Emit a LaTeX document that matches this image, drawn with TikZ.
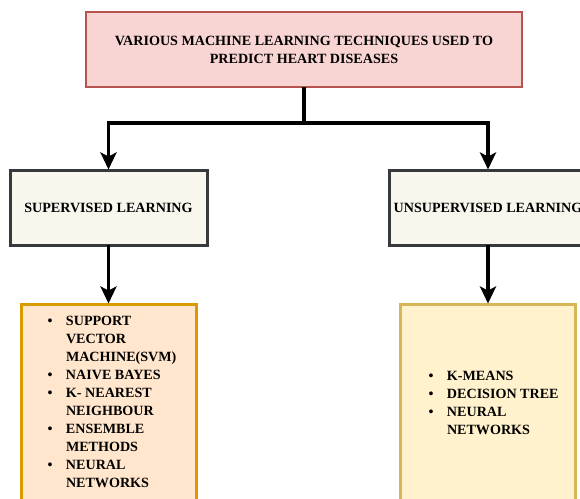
\documentclass[tikz,border=0pt]{standalone}
\usepackage{fontspec}
\setmainfont{Liberation Serif}
\usetikzlibrary{arrows.meta}
\definecolor{topfill}{HTML}{F8D5D2}
\definecolor{topdraw}{HTML}{B85450}
\definecolor{midfill}{HTML}{F9F7ED}
\definecolor{middraw}{HTML}{36393D}
\definecolor{lfill}{HTML}{FFE6CC}
\definecolor{ldraw}{HTML}{D79B00}
\definecolor{rfill}{HTML}{FFF2CC}
\definecolor{rdraw}{HTML}{D6B656}
\tikzset{
  boxbase/.style={rectangle, inner sep=0pt, outer sep=0pt, align=center},
  topbox/.style={boxbase, fill=topfill, draw=topdraw, line width=2.6pt, minimum width=436pt, minimum height=75pt},
  midbox/.style={boxbase, fill=midfill, draw=middraw, line width=3pt, minimum width=197pt, minimum height=75pt},
  lbox/.style={boxbase, fill=lfill, draw=ldraw, line width=3pt, minimum width=175pt, minimum height=210pt},
  rbox/.style={boxbase, fill=rfill, draw=rdraw, line width=3pt, minimum width=175pt, minimum height=210pt},
  listtext/.style={anchor=base west, inner sep=0pt, outer sep=0pt},
  conn/.style={line width=3.2pt, black, -{Stealth[length=17pt, width=16pt, inset=4pt]}, shorten >=0.5pt},
  conn2/.style={line width=3.2pt, black}
}
\newcommand{\bul}{\makebox[18.5pt][l]{\textbullet}}
\newcommand{\ind}{\hspace*{18.5pt}}
\begin{document}
\begin{tikzpicture}[x=1pt, y=-1pt, font=\fontsize{14.1}{18}\selectfont\bfseries]
\useasboundingbox (0,0) rectangle (580,498);
\clip (0,0) rectangle (580,498);
\fill[white] (0,0) rectangle (580,498);

\node[topbox] (top) at (304,49.5) {VARIOUS MACHINE LEARNING TECHNIQUES USED TO\\PREDICT HEART DISEASES};
\node[midbox] (sup) at (108.5,207.5) {SUPERVISED LEARNING};
\node[midbox] (unsup) at (488,207.5) {UNSUPERVISED LEARNING};
\node[lbox] (lb) at (108.5,409) {};
\node[rbox] (rb) at (488,409) {};

\node[listtext] (llist) at (47.5,325.5) {\begin{tabular}[t]{@{}l@{}}
\bul SUPPORT\\
\ind VECTOR\\
\ind MACHINE(SVM)\\
\bul NAIVE BAYES\\
\bul K- NEAREST\\
\ind NEIGHBOUR\\
\bul ENSEMBLE\\
\ind METHODS\\
\bul NEURAL\\
\ind NETWORKS
\end{tabular}};

\node[listtext] (rlist) at (428.5,380.5) {\begin{tabular}[t]{@{}l@{}}
\bul K-MEANS\\
\bul DECISION TREE\\
\bul NEURAL\\
\ind NETWORKS
\end{tabular}};

\coordinate (split) at (304,123);
\draw[conn2] (top.south) -- (split);
\draw[conn] (split) -| (sup.north);
\draw[conn] (split) -| (unsup.north);
\draw[conn] (sup.south) -- (lb.north);
\draw[conn] (unsup.south) -- (rb.north);
\end{tikzpicture}
\end{document}
